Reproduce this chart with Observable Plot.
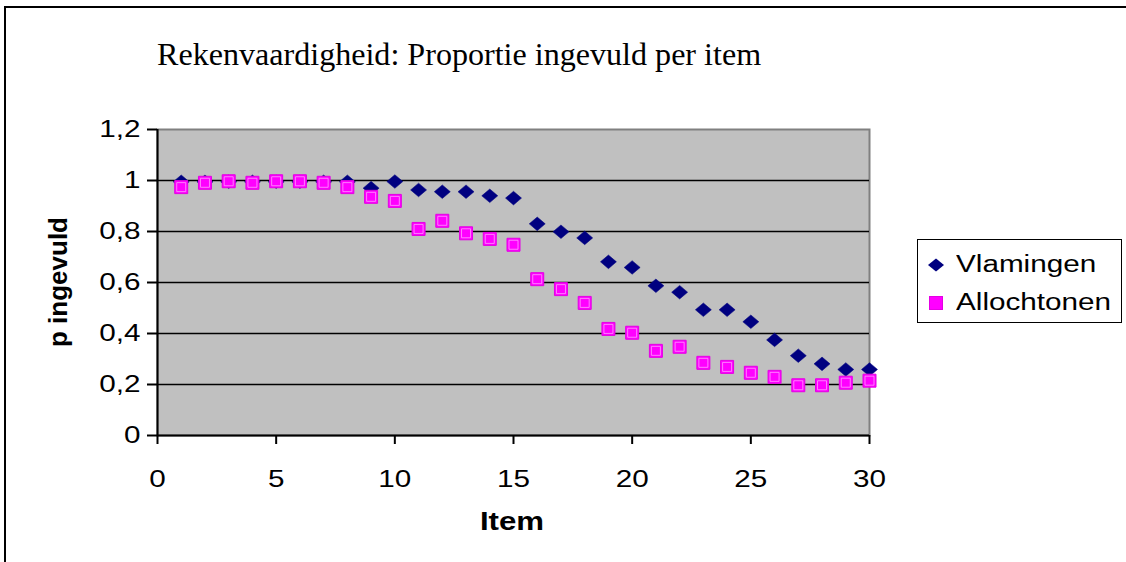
<!DOCTYPE html>
<html>
<head>
<meta charset="utf-8">
<script src="https://cdn.jsdelivr.net/npm/d3@7"></script>
<script src="https://cdn.jsdelivr.net/npm/@observablehq/plot@0.6"></script>
<style>
  html, body { margin: 0; padding: 0; background: #fff; }
  #page { position: relative; width: 1126px; height: 562px; overflow: hidden; }
  #frame { position: absolute; left: 4px; top: 6px; width: 1140px; height: 580px; border: 2px solid #000; box-sizing: border-box; }
  #chart { position: absolute; left: 0; top: 0; }
  #title { position: absolute; left: 157px; top: 37px; font-family: "Liberation Serif", "Times New Roman", serif; font-size: 31px; white-space: nowrap; color: #000; transform: scaleX(1.035); transform-origin: 0 0; }
  #ylabel { position: absolute; left: 58px; top: 282px; transform: translate(-50%, -50%) rotate(-90deg); font-family: "Liberation Sans", Arial, sans-serif; font-weight: bold; font-size: 26px; white-space: nowrap; }
  #xlabel { position: absolute; left: 512px; top: 521px; transform: translate(-50%, -50%) scaleX(1.2); font-family: "Liberation Sans", Arial, sans-serif; font-weight: bold; font-size: 26px; white-space: nowrap; }
  #legend { position: absolute; left: 917px; top: 239px; width: 205px; height: 84px; border: 1px solid #000; box-sizing: border-box; background: #fff; font-family: "Liberation Sans", Arial, sans-serif; font-size: 23px; }
  .lg { position: absolute; left: 10px; display: flex; align-items: center; white-space: nowrap; }
  .lg svg { margin-right: 12px; }
  .lg span { display: inline-block; transform: scaleX(1.29); transform-origin: 0 50%; }
</style>
</head>
<body>
<div id="page">
  <div id="frame"></div>
  <div id="chart"></div>
  <div id="title"></div>
  <div id="ylabel"></div>
  <div id="xlabel"></div>
  <div id="legend"></div>
</div>
<script>
// ---- data ----
const titleText = "Rekenvaardigheid: Proportie ingevuld per item";
const xTitle = "Item";
const yTitle = "p ingevuld";
const seriesNames = ["Vlamingen", "Allochtonen"];
const items = [1,2,3,4,5,6,7,8,9,10,11,12,13,14,15,16,17,18,19,20,21,22,23,24,25,26,27,28,29,30];
const vlamingen = [0.995,0.995,0.995,0.995,0.995,0.995,0.995,0.995,0.970,0.996,0.963,0.956,0.956,0.940,0.931,0.830,0.799,0.775,0.681,0.659,0.587,0.562,0.493,0.493,0.446,0.375,0.313,0.281,0.259,0.259];
const allochtonen = [0.974,0.991,0.997,0.991,0.997,0.997,0.991,0.974,0.936,0.920,0.810,0.842,0.793,0.771,0.748,0.613,0.574,0.520,0.418,0.403,0.332,0.348,0.285,0.269,0.246,0.230,0.197,0.197,0.207,0.215];
const xTicks = [0,5,10,15,20,25,30];
const yTicks = [0,0.2,0.4,0.6,0.8,1,1.2];
const yTickLabels = ["0","0,2","0,4","0,6","0,8","1","1,2"];
const gridValues = [0.2,0.4,0.6,0.8,1];

// ---- symbols ----
const diamondSym = { draw(ctx, size) { const r = Math.sqrt(size / Math.PI); const h = r * 0.85; ctx.moveTo(0, -h); ctx.lineTo(r, 0); ctx.lineTo(0, h); ctx.lineTo(-r, 0); ctx.closePath(); } };
const squareSym = { draw(ctx, size) { const r = Math.sqrt(size / Math.PI); ctx.rect(-r, -r, 2 * r, 2 * r); } };

const navy = "#000080";
const magenta = "#ff00ff";

const dataV = items.map((d, i) => ({item: d, p: vlamingen[i]}));
const dataA = items.map((d, i) => ({item: d, p: allochtonen[i]}));

const plot = Plot.plot({
  width: 1126,
  height: 562,
  marginLeft: 157,
  marginRight: 257,
  marginTop: 129,
  marginBottom: 127,
  style: { fontFamily: "'Liberation Sans', Arial, sans-serif", fontSize: "23px", color: "#000", background: "transparent", overflow: "visible" },
  x: { domain: [0, 30] },
  y: { domain: [0, 1.2] },
  marks: [
    Plot.frame({ fill: "#c0c0c0", stroke: "#808080", strokeWidth: 2 }),
    Plot.ruleY(gridValues, { stroke: "#000", strokeWidth: 1.5 }),
    Plot.ruleY([0], { stroke: "#000", strokeWidth: 2 }),
    Plot.ruleX([0], { stroke: "#000", strokeWidth: 2 }),
    Plot.axisY({ ticks: yTicks, tickFormat: (d) => yTickLabels[yTicks.indexOf(d)], tickSize: 10, tickPadding: 7, label: null, strokeWidth: 2 }),
    Plot.axisX({ ticks: xTicks, tickSize: 9, tickPadding: 26, label: null, strokeWidth: 2 }),
    Plot.dot(dataV, { x: "item", y: "p", symbol: diamondSym, r: 8, fill: navy, stroke: navy, strokeWidth: 0.5 }),
    Plot.dot(dataA, { x: "item", y: "p", symbol: squareSym, r: 6.5, fill: magenta, stroke: "#e400e4", strokeWidth: 1 }),
    Plot.dot(dataA, { x: "item", y: "p", symbol: squareSym, r: 4.5, fill: "none", stroke: "#ff9cff", strokeWidth: 0.8 })
  ]
});
document.getElementById("chart").appendChild(plot);

// widen the axis tick labels like the reference's stretched Arial
plot.querySelectorAll('g[aria-label="y-axis tick label"] text, g[aria-label="x-axis tick label"] text').forEach((t) => {
  const len = t.getComputedTextLength();
  t.setAttribute("textLength", (len * 1.29).toFixed(1));
  t.setAttribute("lengthAdjust", "spacingAndGlyphs");
});

document.getElementById("title").textContent = titleText;
document.getElementById("ylabel").textContent = yTitle;
document.getElementById("xlabel").textContent = xTitle;

// ---- legend ----
const legend = document.getElementById("legend");
const symSvg = [
  `<svg width="16" height="16" viewBox="-8 -8 16 16"><path d="M0,-6.5L8,0L0,6.5L-8,0Z" fill="${navy}"/></svg>`,
  `<svg width="16" height="16" viewBox="-8 -8 16 16"><rect x="-6.5" y="-6.5" width="13" height="13" fill="${magenta}" stroke="#e400e4"/></svg>`
];
seriesNames.forEach((name, i) => {
  const row = document.createElement("div");
  row.className = "lg";
  row.style.top = (i === 0 ? 11 : 49) + "px";
  row.innerHTML = symSvg[i] + `<span>${name}</span>`;
  legend.appendChild(row);
});
</script>
</body>
</html>
